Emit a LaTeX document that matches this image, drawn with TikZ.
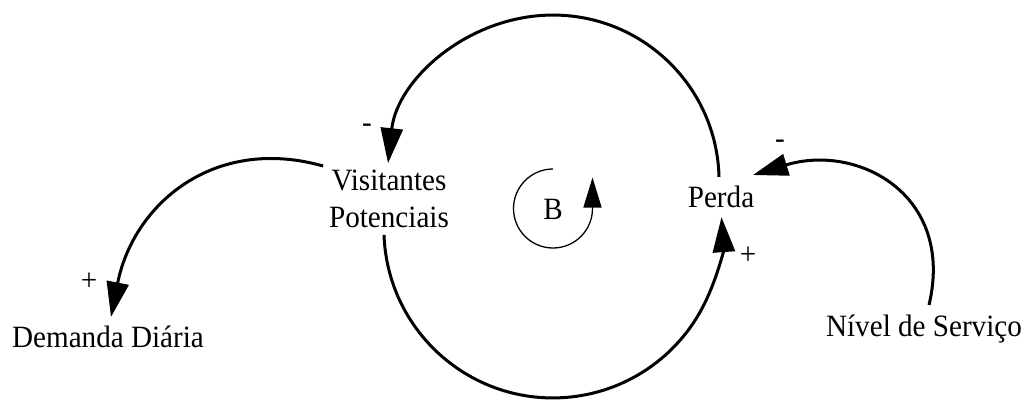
\documentclass[tikz,border=0pt]{standalone}
\usepackage{fontspec}
\setmainfont{Liberation Serif}[FakeStretch=0.94]
\usetikzlibrary{arrows.meta}
\begin{document}
\begin{tikzpicture}[x=0.5pt,y=-0.5pt,
  lbl/.style={font=\fontsize{15.5pt}{18.5pt}\selectfont, inner sep=0pt, outer sep=0pt},
  sgn/.style={font=\fontsize{15.5pt}{18.5pt}\selectfont, inner sep=0pt},
  link/.style={line width=1.5pt, -{Triangle[length=17.5pt,width=11pt]}},
  loopline/.style={line width=0.65pt, -{Triangle[length=15pt,width=9pt]}}]
% variables
\node[lbl, align=center, anchor=north] (V) at (389,170) {Visitantes\\Potenciais};
\node[lbl, anchor=base] (P) at (721,207) {Perda};
\node[lbl, anchor=base] (D) at (108,347) {Demanda Diária};
\node[lbl, anchor=base] (N) at (924,336) {Nível de Serviço};
% polarity signs
\node[sgn] (s1) at (367,128) {-};
\node[sgn] (s2) at (748,256) {+};
\node[sgn] (s3) at (780,144) {-};
\node[sgn] (s4) at (89,282) {+};
% connectors
\draw[link] ([shift={(-2,-30)}]P.base) arc[start angle=-1.4, end angle=-173.8, radius=166];
\draw[link] ([shift={(-5,7)}]V.south) arc[start angle=178, end angle=-4, radius=169];
\draw[link] ([shift={(5,-31)}]N.base) .. controls +(26,-110) and +(105,-32) .. ([shift={(32,-32)}]P.base);
\draw[link] ([shift={(-6,-4)}]V.north west) .. controls +(-110,-31) and +(22,-112) .. ([shift={(3,-30)}]D.base);
% loop symbol
\node[lbl, anchor=base] (B) at (553,219) {B};
\draw[loopline] (553,169) arc[start angle=270, end angle=0, radius=39.5] -- ++(0,-31);
\pgfresetboundingbox
\path[use as bounding box] (0,0) rectangle (1031,401);
\end{tikzpicture}
\end{document}
